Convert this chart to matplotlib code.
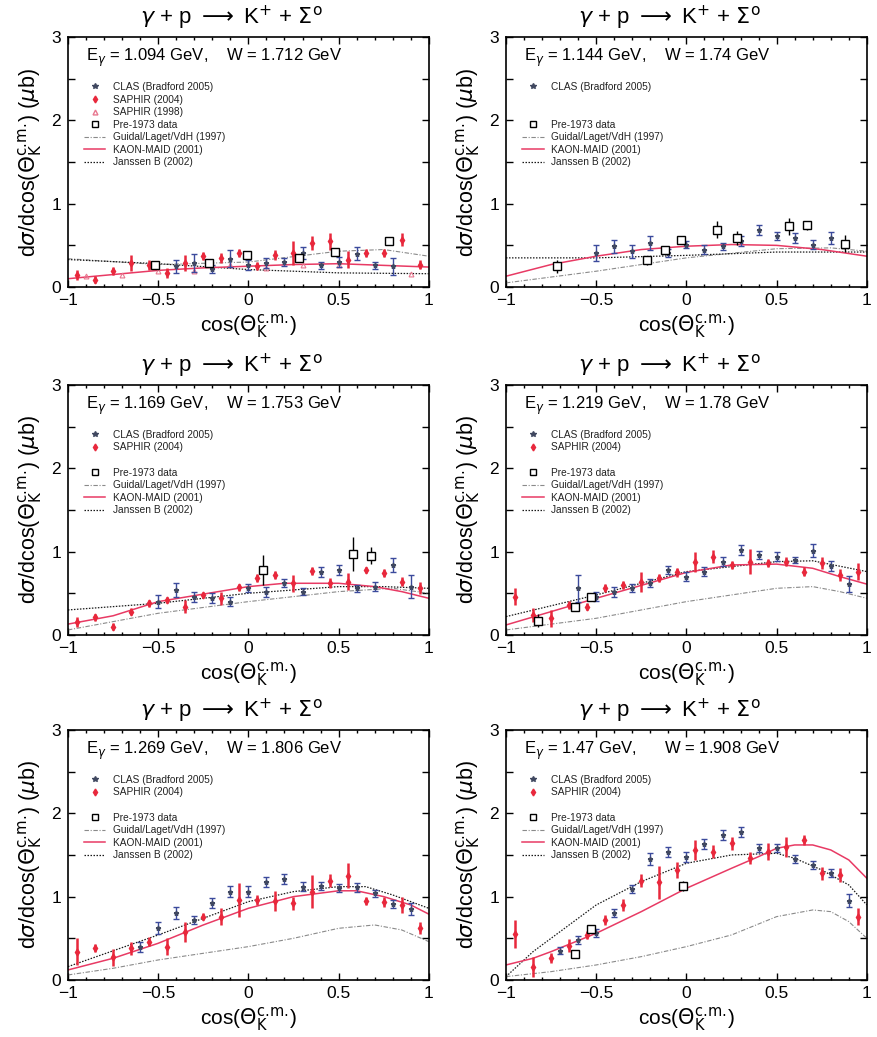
import matplotlib
matplotlib.use("Agg")
import matplotlib.pyplot as plt
from matplotlib.lines import Line2D

plt.rcParams['font.family'] = ['Liberation Sans', 'DejaVu Sans']
plt.rcParams['mathtext.fontset'] = 'dejavusans'

# ---
# data
# ---

saphir_x = [-0.95, -0.85, -0.75, -0.65, -0.55, -0.45, -0.35, -0.25, -0.15, -0.05,
            0.05, 0.15, 0.25, 0.35, 0.45, 0.55, 0.65, 0.75, 0.85, 0.95]

# E = 1.094 GeV
clas1_x = [-0.4, -0.3, -0.2, -0.1, 0.0, 0.1, 0.2, 0.3, 0.4, 0.5, 0.6, 0.7, 0.8]
clas1_y = [0.25, 0.29, 0.22, 0.34, 0.27, 0.29, 0.30, 0.41, 0.26, 0.30, 0.40, 0.26, 0.25]
clas1_e = [0.08, 0.11, 0.05, 0.10, 0.06, 0.06, 0.05, 0.07, 0.04, 0.06, 0.08, 0.04, 0.10]
saphir1_y = [0.15, 0.09, 0.19, 0.29, 0.27, 0.17, 0.29, 0.37, 0.35, 0.41,
             0.25, 0.39, 0.41, 0.53, 0.55, 0.33, 0.41, 0.41, 0.57, 0.27]
saphir1_e = [0.06, 0.04, 0.05, 0.10, 0.06, 0.06, 0.10, 0.05, 0.06, 0.05,
             0.05, 0.06, 0.14, 0.08, 0.10, 0.10, 0.05, 0.05, 0.08, 0.05]
saphir98_x = [-0.9, -0.7, -0.5, -0.3, -0.1, 0.1, 0.3, 0.5, 0.9]
saphir98_y = [0.13, 0.14, 0.19, 0.19, 0.27, 0.23, 0.27, 0.27, 0.16]
pre1_x = [-0.52, -0.22, -0.01, 0.28, 0.48, 0.78]
pre1_y = [0.27, 0.29, 0.39, 0.35, 0.42, 0.55]
pre1_e = [0.03, 0.03, 0.04, 0.04, 0.04, 0.04]
maid1_x = [-1, -0.75, -0.5, -0.25, 0, 0.25, 0.5, 0.75, 1]
maid1_y = [0.10, 0.15, 0.20, 0.23, 0.25, 0.27, 0.28, 0.26, 0.24]
guidal1_x = [-1, -0.5, 0, 0.5, 0.75, 1]
guidal1_y = [0.34, 0.27, 0.30, 0.43, 0.45, 0.37]
janssen1_x = [-1, -0.5, 0, 0.5, 1]
janssen1_y = [0.33, 0.28, 0.21, 0.17, 0.16]

# E = 1.144 GeV
clas2_x = [-0.5, -0.4, -0.3, -0.2, -0.1, 0.0, 0.1, 0.2, 0.3, 0.4, 0.5, 0.6, 0.7, 0.8]
clas2_y = [0.41, 0.49, 0.43, 0.53, 0.41, 0.51, 0.45, 0.49, 0.55, 0.69, 0.61, 0.59, 0.51, 0.59]
clas2_e = [0.10, 0.08, 0.08, 0.08, 0.05, 0.04, 0.05, 0.04, 0.06, 0.06, 0.05, 0.06, 0.05, 0.07]
pre2_x = [-0.72, -0.22, -0.12, -0.03, 0.17, 0.28, 0.57, 0.67, 0.88]
pre2_y = [0.25, 0.32, 0.44, 0.56, 0.69, 0.59, 0.73, 0.74, 0.52]
pre2_e = [0.08, 0.05, 0.04, 0.04, 0.10, 0.08, 0.10, 0.05, 0.10]
maid2_x = [-1, -0.75, -0.5, -0.25, 0, 0.25, 0.5, 0.75, 1]
maid2_y = [0.13, 0.27, 0.37, 0.45, 0.49, 0.51, 0.50, 0.45, 0.37]
guidal2_x = [-1, -0.5, 0, 0.5, 0.8, 1]
guidal2_y = [0.05, 0.19, 0.35, 0.46, 0.47, 0.43]
janssen2_x = [-1, -0.5, 0, 0.5, 1]
janssen2_y = [0.35, 0.35, 0.38, 0.42, 0.42]

# E = 1.169 GeV
clas3_x = [-0.5, -0.4, -0.3, -0.2, -0.1, 0.0, 0.1, 0.2, 0.3, 0.4, 0.5, 0.6, 0.7, 0.8, 0.9]
clas3_y = [0.40, 0.54, 0.46, 0.44, 0.40, 0.56, 0.52, 0.62, 0.52, 0.76, 0.78, 0.56, 0.58, 0.84, 0.58]
clas3_e = [0.08, 0.08, 0.06, 0.06, 0.05, 0.05, 0.06, 0.05, 0.04, 0.06, 0.06, 0.04, 0.05, 0.08, 0.14]
saphir3_y = [0.16, 0.21, 0.10, 0.28, 0.38, 0.42, 0.34, 0.48, 0.44, 0.57,
             0.68, 0.72, 0.62, 0.77, 0.62, 0.64, 0.78, 0.74, 0.64, 0.56]
saphir3_e = [0.06, 0.04, 0.04, 0.04, 0.04, 0.04, 0.08, 0.04, 0.08, 0.04,
             0.05, 0.05, 0.10, 0.05, 0.06, 0.10, 0.04, 0.05, 0.05, 0.07]
pre3_x = [0.08, 0.58, 0.68]
pre3_y = [0.78, 0.97, 0.95]
pre3_e = [0.18, 0.20, 0.10]
maid3_x = [-1, -0.75, -0.5, -0.25, 0, 0.2, 0.5, 0.7, 0.85, 1]
maid3_y = [0.13, 0.23, 0.40, 0.49, 0.58, 0.62, 0.62, 0.58, 0.52, 0.44]
guidal3_x = [-1, -0.5, 0, 0.5, 0.8, 1]
guidal3_y = [0.06, 0.26, 0.40, 0.52, 0.56, 0.50]
janssen3_x = [-1, -0.5, 0, 0.5, 0.75, 1]
janssen3_y = [0.30, 0.38, 0.50, 0.58, 0.58, 0.56]

# E = 1.219 GeV
clas4_x = [-0.6, -0.5, -0.4, -0.3, -0.2, -0.1, 0.0, 0.1, 0.2, 0.3, 0.4, 0.5, 0.6, 0.7, 0.8, 0.9]
clas4_y = [0.56, 0.46, 0.52, 0.56, 0.62, 0.78, 0.70, 0.76, 0.88, 1.02, 0.96, 0.94, 0.90, 1.01, 0.83, 0.61]
clas4_e = [0.16, 0.05, 0.06, 0.05, 0.05, 0.05, 0.05, 0.05, 0.05, 0.06, 0.05, 0.05, 0.04, 0.08, 0.06, 0.10]
saphir4_y = [0.46, 0.24, 0.20, 0.36, 0.34, 0.56, 0.60, 0.64, 0.68, 0.75,
             0.88, 0.94, 0.84, 0.88, 0.86, 0.88, 0.76, 0.86, 0.72, 0.76]
saphir4_e = [0.10, 0.08, 0.10, 0.05, 0.04, 0.05, 0.05, 0.12, 0.05, 0.05,
             0.12, 0.08, 0.05, 0.15, 0.05, 0.05, 0.05, 0.07, 0.07, 0.10]
pre4_x = [-0.82, -0.62, -0.53]
pre4_y = [0.17, 0.34, 0.46]
pre4_e = [0.08, 0.04, 0.04]
maid4_x = [-1, -0.5, 0, 0.25, 0.5, 0.7, 0.85, 1]
maid4_y = [0.12, 0.44, 0.75, 0.84, 0.85, 0.80, 0.70, 0.61]
guidal4_x = [-1, -0.5, 0, 0.5, 0.7, 0.85, 1]
guidal4_y = [0.06, 0.20, 0.40, 0.56, 0.58, 0.52, 0.44]
janssen4_x = [-1, -0.5, 0, 0.5, 0.7, 1]
janssen4_y = [0.22, 0.48, 0.76, 0.88, 0.89, 0.76]

# E = 1.269 GeV
clas5_x = [-0.6, -0.5, -0.4, -0.3, -0.2, -0.1, 0.0, 0.1, 0.2, 0.3, 0.4, 0.5, 0.6, 0.7, 0.8, 0.9]
clas5_y = [0.40, 0.62, 0.80, 0.72, 0.92, 1.06, 1.06, 1.18, 1.21, 1.12, 1.13, 1.10, 1.11, 1.04, 0.91, 0.85]
clas5_e = [0.06, 0.07, 0.07, 0.05, 0.06, 0.07, 0.07, 0.06, 0.06, 0.05, 0.05, 0.05, 0.05, 0.04, 0.05, 0.07]
saphir5_y = [0.34, 0.38, 0.27, 0.38, 0.46, 0.40, 0.58, 0.76, 0.76, 0.96,
             0.96, 0.95, 0.92, 1.06, 1.19, 1.25, 0.95, 0.94, 0.90, 0.62]
saphir5_e = [0.16, 0.05, 0.10, 0.08, 0.05, 0.10, 0.12, 0.04, 0.10, 0.20,
             0.06, 0.12, 0.08, 0.20, 0.08, 0.15, 0.05, 0.06, 0.10, 0.07]
maid5_x = [-1, -0.75, -0.5, -0.25, 0, 0.25, 0.5, 0.6, 0.75, 0.9, 1]
maid5_y = [0.12, 0.26, 0.44, 0.66, 0.86, 1.00, 1.07, 1.07, 1.00, 0.90, 0.79]
guidal5_x = [-1, -0.75, -0.5, 0, 0.25, 0.5, 0.7, 0.85, 1]
guidal5_y = [0.06, 0.14, 0.24, 0.40, 0.50, 0.62, 0.66, 0.60, 0.46]
janssen5_x = [-1, -0.5, -0.25, 0, 0.25, 0.5, 0.65, 0.8, 1]
janssen5_y = [0.16, 0.54, 0.74, 0.94, 1.06, 1.12, 1.12, 1.02, 0.86]

# E = 1.47 GeV
clas6_x = [-0.7, -0.6, -0.5, -0.4, -0.3, -0.2, -0.1, 0.0, 0.1, 0.2, 0.3, 0.4, 0.5, 0.6, 0.7, 0.8, 0.9]
clas6_y = [0.35, 0.48, 0.56, 0.80, 1.09, 1.45, 1.54, 1.48, 1.63, 1.74, 1.78, 1.58, 1.58, 1.45, 1.38, 1.28, 0.95]
clas6_e = [0.04, 0.05, 0.05, 0.05, 0.05, 0.07, 0.06, 0.06, 0.06, 0.06, 0.06, 0.05, 0.05, 0.05, 0.05, 0.05, 0.08]
saphir6_y = [0.55, 0.16, 0.26, 0.41, 0.54, 0.72, 0.90, 1.19, 1.17, 1.32,
             1.56, 1.54, 1.64, 1.46, 1.54, 1.60, 1.68, 1.28, 1.26, 0.76]
saphir6_e = [0.17, 0.12, 0.06, 0.08, 0.05, 0.06, 0.07, 0.08, 0.20, 0.10,
             0.12, 0.08, 0.08, 0.07, 0.10, 0.12, 0.06, 0.08, 0.08, 0.10]
pre6_x = [-0.62, -0.53, -0.02]
pre6_y = [0.31, 0.61, 1.13]
pre6_e = [0.02, 0.03, 0.06]
maid6_x = [-1, -0.85, -0.75, -0.5, -0.25, 0, 0.25, 0.4, 0.5, 0.6, 0.7, 0.8, 0.9, 1]
maid6_y = [0.18, 0.26, 0.34, 0.56, 0.82, 1.10, 1.34, 1.48, 1.58, 1.62, 1.62, 1.56, 1.44, 1.22]
guidal6_x = [-1, -0.75, -0.5, -0.25, 0, 0.25, 0.5, 0.7, 0.8, 0.9, 1]
guidal6_y = [0.04, 0.10, 0.18, 0.28, 0.40, 0.54, 0.76, 0.84, 0.82, 0.70, 0.50]
janssen6_x = [-1, -0.85, -0.75, -0.5, -0.25, 0, 0.25, 0.5, 0.6, 0.75, 0.9, 1]
janssen6_y = [0.04, 0.34, 0.50, 0.90, 1.18, 1.40, 1.50, 1.52, 1.46, 1.32, 1.14, 0.90]

energy_labels = [
    r"E$_\gamma$ = 1.094 GeV,    W = 1.712 GeV",
    r"E$_\gamma$ = 1.144 GeV,    W = 1.74 GeV",
    r"E$_\gamma$ = 1.169 GeV,    W = 1.753 GeV",
    r"E$_\gamma$ = 1.219 GeV,    W = 1.78 GeV",
    r"E$_\gamma$ = 1.269 GeV,    W = 1.806 GeV",
    r"E$_\gamma$ = 1.47 GeV,      W = 1.908 GeV",
]

# ---
# styles
# ---
clas_c = '#3b4a9c'
saphir_c = '#e8283c'
saphir98_c = '#e87890'
maid_c = '#e83a64'
guidal_c = '#8a8a8a'
janssen_c = '#1a1a1a'

title = r"$\gamma$ + p $\longrightarrow$ K$^{+}$ + $\Sigma^{\mathrm{o}}$"
ylabel = r"d$\sigma$/dcos($\Theta_\mathrm{K}^\mathrm{c.\!m.\!}$) ($\mu$b)"
xlabel = r"cos($\Theta_\mathrm{K}^\mathrm{c.\!m.\!}$)"

lefts = [0.0774, 0.5763]
bottoms = [0.7232, 0.3877, 0.055]
w, h = 0.411, 0.2411

panels = [
    ((clas1_x, clas1_y, clas1_e), (saphir_x, saphir1_y, saphir1_e), (saphir98_x, saphir98_y),
     (pre1_x, pre1_y, pre1_e), (maid1_x, maid1_y), (guidal1_x, guidal1_y), (janssen1_x, janssen1_y)),
    ((clas2_x, clas2_y, clas2_e), None, None,
     (pre2_x, pre2_y, pre2_e), (maid2_x, maid2_y), (guidal2_x, guidal2_y), (janssen2_x, janssen2_y)),
    ((clas3_x, clas3_y, clas3_e), (saphir_x, saphir3_y, saphir3_e), None,
     (pre3_x, pre3_y, pre3_e), (maid3_x, maid3_y), (guidal3_x, guidal3_y), (janssen3_x, janssen3_y)),
    ((clas4_x, clas4_y, clas4_e), (saphir_x, saphir4_y, saphir4_e), None,
     (pre4_x, pre4_y, pre4_e), (maid4_x, maid4_y), (guidal4_x, guidal4_y), (janssen4_x, janssen4_y)),
    ((clas5_x, clas5_y, clas5_e), (saphir_x, saphir5_y, saphir5_e), None,
     None, (maid5_x, maid5_y), (guidal5_x, guidal5_y), (janssen5_x, janssen5_y)),
    ((clas6_x, clas6_y, clas6_e), (saphir_x, saphir6_y, saphir6_e), None,
     (pre6_x, pre6_y, pre6_e), (maid6_x, maid6_y), (guidal6_x, guidal6_y), (janssen6_x, janssen6_y)),
]

fig = plt.figure(figsize=(8.78, 10.37), dpi=100)

for i, (clas, saphir, saphir98, pre, maid, guidal, janssen) in enumerate(panels):
    ax = fig.add_axes([lefts[i % 2], bottoms[i // 2], w, h])

    # theory curves
    ax.plot(*guidal, color=guidal_c, lw=0.8, ls=(0, (4, 1.5, 1, 1.5)), zorder=2)
    ax.plot(*janssen, color=janssen_c, lw=0.9, ls=(0, (1.2, 1.2)), zorder=2)
    ax.plot(*maid, color=maid_c, lw=1.1, zorder=2)

    # data
    if saphir98 is not None:
        ax.plot(*saphir98, ls='none', marker='^', ms=3.5, mfc='none', mec=saphir98_c, mew=0.8, zorder=3)
    if saphir is not None:
        ax.errorbar(saphir[0], saphir[1], yerr=saphir[2], fmt='d', ms=3.5, color=saphir_c,
                    elinewidth=1.8, capsize=0, zorder=4)
    ax.errorbar(clas[0], clas[1], yerr=clas[2], fmt='*', ms=3.5, color=clas_c,
                mfc='#404860', mec='#404860', elinewidth=1.0, capsize=2.5, capthick=1.0, zorder=5)
    if pre is not None:
        ax.errorbar(pre[0], pre[1], yerr=pre[2], fmt='s', ms=6, mfc='white', mec='black', mew=1.0,
                    ecolor='black', elinewidth=1.0, capsize=0, zorder=6)

    # legend (fixed rows, blanks where a data set is not shown)
    blank = Line2D([], [], ls='none')
    handles = [Line2D([], [], ls='none', marker='*', ms=4, color='#404860')]
    labels = ["CLAS (Bradford 2005)"]
    if saphir is not None:
        handles.append(Line2D([], [], ls='none', marker='d', ms=3.5, color=saphir_c))
        labels.append("SAPHIR (2004)")
    else:
        handles.append(blank)
        labels.append(" ")
    if saphir98 is not None:
        handles.append(Line2D([], [], ls='none', marker='^', ms=3.5, mfc='none', mec=saphir98_c))
        labels.append("SAPHIR (1998)")
    else:
        handles.append(blank)
        labels.append(" ")
    handles += [Line2D([], [], ls='none', marker='s', ms=5, mfc='white', mec='black'),
                Line2D([], [], color=guidal_c, lw=0.8, ls=(0, (4, 1.5, 1, 1.5))),
                Line2D([], [], color=maid_c, lw=1.1),
                Line2D([], [], color=janssen_c, lw=0.9, ls=(0, (1.2, 1.2)))]
    labels += ["Pre-1973 data", "Guidal/Laget/VdH (1997)", "KAON-MAID (2001)", "Janssen B (2002)"]
    leg = ax.legend(handles, labels, loc='upper left', bbox_to_anchor=(0.045, 0.82),
                    frameon=False, fontsize=7.3, handlelength=2.1, handletextpad=0.7,
                    labelspacing=0.25, borderpad=0, borderaxespad=0)
    for t in leg.get_texts():
        t.set_color('#222222')

    ax.text(0.05, 0.917, energy_labels[i], transform=ax.transAxes, fontsize=12, va='center')
    ax.text(0.453, 1.076, title, transform=ax.transAxes, fontsize=16, ha='center', va='center')

    ax.set_xlim(-1, 1)
    ax.set_ylim(0, 3)
    ax.set_xticks([-1, -0.5, 0, 0.5, 1])
    ax.set_xticklabels(['\u22121', '\u22120.5', '0', '0.5', '1'])
    ax.set_xticks([-0.9, -0.8, -0.7, -0.6, -0.4, -0.3, -0.2, -0.1, 0.1, 0.2, 0.3, 0.4,
                   0.6, 0.7, 0.8, 0.9], minor=True)
    ax.set_yticks([0, 0.5, 1, 1.5, 2, 2.5, 3])
    ax.set_yticklabels(['0', '', '1', '', '2', '', '3'])
    ax.tick_params(which='both', direction='in', top=True, right=True, labelsize=12.5, width=1.0)
    ax.tick_params(which='major', length=5)
    ax.tick_params(which='minor', length=2.5)
    ax.tick_params(axis='x', pad=4)
    ax.tick_params(axis='y', pad=5)
    for s in ax.spines.values():
        s.set_linewidth(1.2)

    ax.set_xlabel(xlabel, fontsize=15, labelpad=3)
    ax.set_ylabel(ylabel, fontsize=15.5, labelpad=5)

fig.savefig("out.png", dpi=100)
